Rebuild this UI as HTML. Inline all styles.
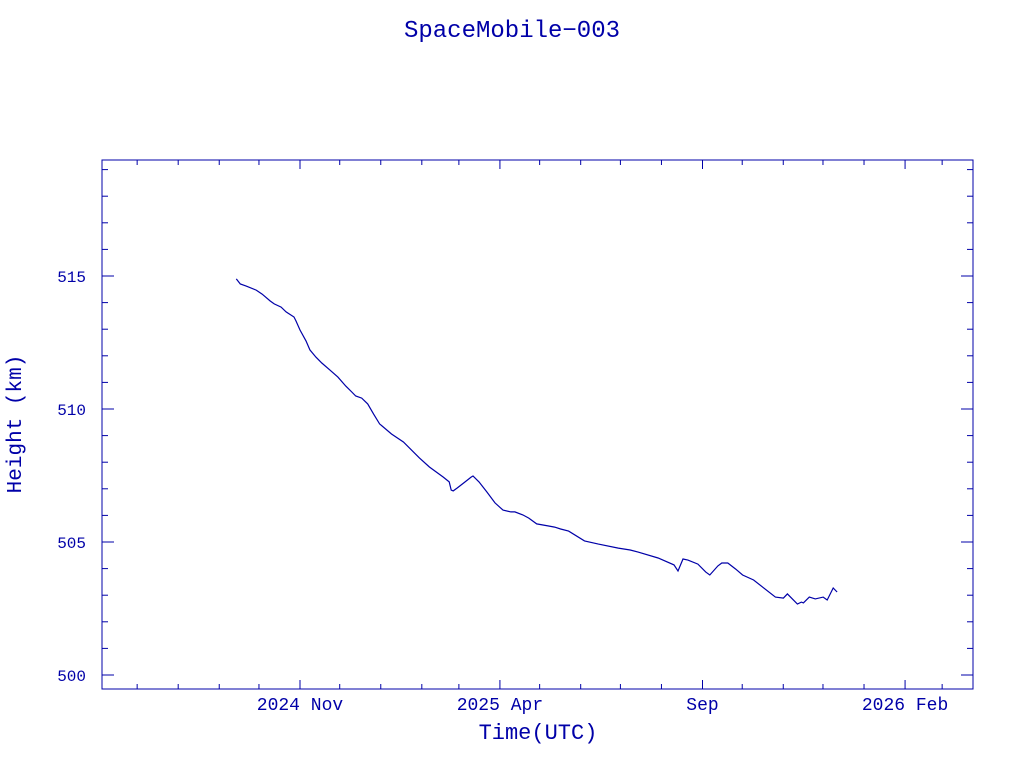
<!DOCTYPE html>
<html><head><meta charset="utf-8"><style>
html,body{margin:0;padding:0;background:#fff;}
svg{display:block;}
text{font-family:"Liberation Mono",monospace;fill:#0000a8;}
</style></head><body>
<svg id="chart" width="1024" height="768" viewBox="0 0 1024 768">
<text x="512" y="37" font-size="24" text-anchor="middle">SpaceMobile−003</text>
<rect x="102" y="160" width="871" height="529" fill="none" stroke="#0000a8" stroke-width="1"/>
<g id="ticks"></g>
<path id="line" fill="none" stroke="#0000a8" stroke-width="1.2"/>
<text x="538" y="739" font-size="22" text-anchor="middle">Time(UTC)</text>
<text transform="translate(21,424) rotate(-90)" font-size="21" text-anchor="middle">Height (km)</text>
</svg>
<script>
// days since 2024-11-01
const days=[-48.1,-45.1,-40.6,-33.1,-28.6,-22.5,-19.5,-14.3,-10.5,-4.5,-3,0,4.5,7.5,12,16.5,22.5,28.6,34.6,39.1,42.1,46.6,51.1,55.6,60.1,69.1,78.1,90.2,97.7,108.2,112.7,114.2,115.7,118.7,124.7,129.2,130.7,135.2,141.2,147.3,153.3,159.3,162.3,168.3,172.8,178.8,187.8,192.3,196.8,202.9,214.9,225.4,240.4,249.4,255.4,270.5,282.5,285.5,289.3,293,300.5,306.5,309.5,315.6,318.6,323.1,329.1,334.3,342.6,359.1,365.1,368.1,375.7,378.7,380.2,384.7,389.2,395.2,398.2,402.7,405.7];
const heights=[514.89,514.70,514.62,514.47,514.32,514.06,513.95,513.83,513.65,513.46,513.31,512.97,512.56,512.22,511.95,511.73,511.47,511.20,510.86,510.64,510.49,510.41,510.19,509.81,509.44,509.06,508.76,508.16,507.82,507.44,507.26,506.95,506.92,507.03,507.26,507.44,507.48,507.26,506.88,506.47,506.20,506.13,506.13,506.02,505.90,505.68,505.60,505.56,505.49,505.41,505.04,504.92,504.77,504.70,504.62,504.40,504.14,503.91,504.36,504.32,504.17,503.87,503.76,504.10,504.21,504.21,503.98,503.76,503.57,502.93,502.89,503.05,502.67,502.74,502.71,502.93,502.86,502.93,502.82,503.27,503.12];
const monthDays=[-123,-92,-61,-31,0,30,61,92,120,151,181,212,242,273,304,334,365,395,426,457,485];
const majorLabels={0:"2024 Nov",151:"2025 Apr",304:"Sep",457:"2026 Feb"};
const yMajor=[500,505,510,515];
const X=d=>300+d*1.324;
const Y=h=>675-(h-500)*26.6;
const NS="http://www.w3.org/2000/svg";
const g=document.getElementById('ticks');
function ln(x1,y1,x2,y2,name){const l=document.createElementNS(NS,'line');l.setAttribute('x1',x1);l.setAttribute('y1',y1);l.setAttribute('x2',x2);l.setAttribute('y2',y2);l.setAttribute('stroke','#0000a8');


g.appendChild(l);}
function tx(x,y,s,anchor,size,name){const t=document.createElementNS(NS,'text');t.setAttribute('x',x);t.setAttribute('y',y);t.setAttribute('font-size',size);t.setAttribute('text-anchor',anchor);t.textContent=s;


g.appendChild(t);}
monthDays.forEach(d=>{const x=X(d);if(x<102||x>973)return;const maj=d in majorLabels;const L=maj?9:5;
ln(x,689,x,689-L,'x-tick');ln(x,160,x,160+L,'x-tick');
if(maj)tx(x,710,majorLabels[d],'middle','18','x-tick-label');});
for(let h=500;h<=519;h++){const y=Y(h);if(y<160)continue;const maj=h%5===0;const L=maj?12:6;
ln(102,y,102+L,y,'y-tick');ln(973,y,973-L,y,'y-tick');}
yMajor.forEach(h=>tx(86,Y(h)+6,String(h),'end','16','y-tick-label'));
document.getElementById('line').setAttribute('d',days.map((d,i)=>(i?'L':'M')+X(d).toFixed(1)+','+Y(heights[i]).toFixed(1)).join(''));
</script>
</body></html>
